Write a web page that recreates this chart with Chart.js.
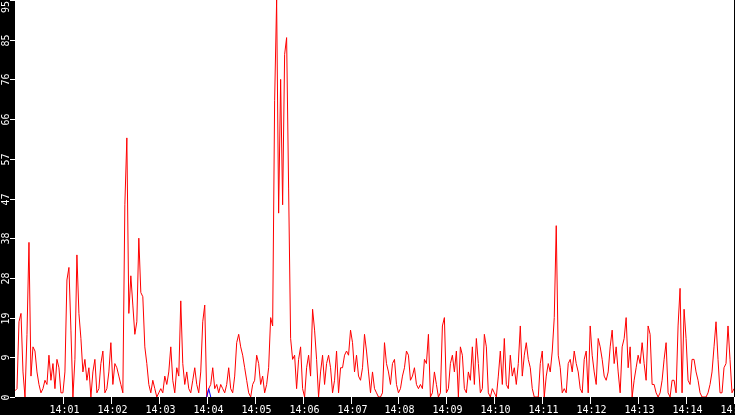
<!DOCTYPE html>
<html lang="en">
<head>
    <meta charset="UTF-8">
    <title>Traffic 14:00 - 14:15</title>
    <script src="https://cdn.jsdelivr.net/npm/chart.js"></script>
    <style>
        body {
            margin: 0;
            padding: 0;
            background: #000;
        }
        canvas {
            display: block;
        }
    </style>
</head>
<body>
    <canvas id="trafficChart" width="735" height="415"></canvas>

    <script>
        // one sample every 2.5 s, starting at 14:00:00
        const stepSeconds = 2.5;
        const series = [
            1.5, 2, 18, 20, 6, 0, 15, 37, 5, 12,
            11, 6, 3, 1, 2, 4, 3, 10, 4, 8,
            2, 9, 7, 1, 1, 6, 28, 31, 16, 0,
            9, 34, 20, 14, 6, 9, 4, 7, 0, 6,
            9, 1, 2, 8, 11, 1, 2, 6, 13, 3,
            8, 7, 5, 3, 1, 46, 62, 20, 29, 22,
            15, 18, 38, 25, 24, 12, 8, 3, 1, 4,
            2, 0, 1, 2, 1, 5, 3, 6, 12, 4,
            1, 7, 5, 23, 8, 3, 6, 2, 1, 4,
            7, 3, 1, 6, 18, 22, 0, 2, 3, 7,
            2, 3, 1, 3, 2, 1, 3, 7, 2, 1,
            5, 13, 15, 12, 10, 7, 4, 1, 0, 3,
            4, 10, 8, 3, 5, 1, 3, 7, 19, 17,
            71, 95, 44, 76, 46, 82, 86, 50, 14, 9,
            10, 2, 9, 12, 2, 0, 7, 10, 5, 21,
            16, 9, 0, 6, 10, 3, 8, 10, 7, 1,
            4, 11, 1, 7, 7, 10, 11, 10, 16, 13,
            6, 10, 5, 4, 7, 15, 11, 6, 1, 6,
            2, 1, 0, 0, 1, 13, 8, 6, 3, 8,
            9, 3, 1, 2, 5,
            7, 11, 10, 4, 5, 7, 3, 2, 3, 2,
            9, 8, 15, 0, 1, 6, 3, 0, 1, 17,
            19, 1, 2, 8, 10, 6, 11, 0, 12, 10,
            2, 1, 6, 4, 12, 3, 14, 8, 1, 2,
            15, 12, 1, 0, 2, 1, 0, 5, 11, 3,
            14, 3, 2, 10, 5,
            7, 3, 8, 17, 5, 10, 13, 9, 7, 2,
            0, 0, 0, 8, 11, 0, 5, 8, 6, 11,
            19, 41, 10, 7, 1, 2, 1, 8, 9, 6,
            11, 8, 6, 2, 1, 9, 11, 1, 17, 10,
            6, 3, 14, 12, 9, 5, 4, 6, 12, 16,
            8, 12, 6, 1, 12,
            14, 19, 7, 12, 0, 4, 7, 10, 8, 13,
            8, 4, 17, 15, 3, 3, 1, 0, 1, 4,
            9, 13, 1, 0, 4, 4, 1, 17, 26, 1,
            21, 14, 4, 3, 9, 9, 6, 4, 1, 0,
            0, 0, 1, 3, 6, 12, 18, 9, 1, 1,
            7, 8, 17, 9, 1, 2
        ];
        // short blue blip just after 14:04
        const blueStart = 96;
        const blueValues = [0, 2, 0];

        const yTicks = [0, 9.5, 19, 28.5, 38, 47.5, 57, 66.5, 76, 85.5, 95];
        const xTickLabels = ['14:01', '14:02', '14:03', '14:04', '14:05', '14:06', '14:07', '14:08',
                             '14:09', '14:10', '14:11', '14:12', '14:13', '14:14', '14:15'];

        const redPoints = series.map((v, i) => ({ x: i * stepSeconds, y: v }));
        const bluePoints = blueValues.map((v, k) => ({ x: (blueStart + k) * stepSeconds, y: v }));

        // black frame + white plot, then white ticks and labels in the frame
        const framePlugin = {
            id: 'frame',
            beforeDraw(chart) {
                const ctx = chart.ctx;
                const a = chart.chartArea;
                ctx.save();
                ctx.fillStyle = '#000';
                ctx.fillRect(0, 0, chart.width, chart.height);
                ctx.fillStyle = '#fff';
                ctx.fillRect(a.left, a.top, a.right - a.left, a.bottom - a.top);
                ctx.restore();
            },
            afterDraw(chart) {
                const ctx = chart.ctx;
                const a = chart.chartArea;
                const xs = chart.scales.x;
                const ys = chart.scales.y;
                ctx.save();
                ctx.strokeStyle = '#fff';
                ctx.fillStyle = '#fff';
                ctx.lineWidth = 1;
                ctx.font = '10px "DejaVu Sans Mono"';

                yTicks.forEach(v => {
                    const py = Math.round(ys.getPixelForValue(v)) + 0.5;
                    ctx.beginPath();
                    ctx.moveTo(a.left - 5, py);
                    ctx.lineTo(a.left, py);
                    ctx.stroke();
                    ctx.save();
                    ctx.translate(6, Math.max(py, 7));
                    ctx.rotate(-Math.PI / 2);
                    ctx.textAlign = 'center';
                    ctx.textBaseline = 'middle';
                    ctx.fillText(String(Math.floor(v)), 0, 0);
                    ctx.restore();
                });

                xTickLabels.forEach((label, i) => {
                    const px = Math.round(xs.getPixelForValue((i + 1) * 60)) + 0.5;
                    ctx.beginPath();
                    ctx.moveTo(px, a.bottom);
                    ctx.lineTo(px, a.bottom + 7);
                    ctx.stroke();
                    ctx.textAlign = 'center';
                    ctx.textBaseline = 'alphabetic';
                    ctx.fillText(label, px + 1, 413);
                });
                ctx.restore();
            }
        };

        const ctx = document.getElementById('trafficChart').getContext('2d');
        new Chart(ctx, {
            type: 'line',
            data: {
                datasets: [{
                    data: redPoints,
                    borderColor: '#ff0000',
                    borderWidth: 1,
                    pointRadius: 0,
                    tension: 0,
                    order: 2
                }, {
                    data: bluePoints,
                    borderColor: '#0000ff',
                    borderWidth: 1,
                    pointRadius: 0,
                    tension: 0,
                    order: 1
                }]
            },
            options: {
                responsive: false,
                animation: false,
                devicePixelRatio: 1,
                layout: {
                    padding: { left: 15, right: 1, top: 0, bottom: 18 }
                },
                plugins: {
                    legend: { display: false },
                    tooltip: { enabled: false }
                },
                scales: {
                    x: { type: 'linear', min: 0, max: 900, display: false },
                    y: { min: 0, max: 95, display: false }
                }
            },
            plugins: [framePlugin]
        });
    </script>
</body>
</html>
